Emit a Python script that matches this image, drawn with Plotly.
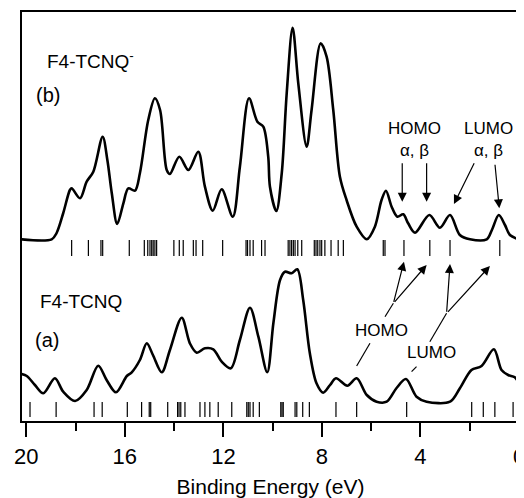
import plotly.graph_objects as go

# ---- data (binding energy in eV, intensity in arbitrary units) ----
anion_energy = [20.2, 18.97, 18.77, 18.50, 18.23, 18.16, 17.82, 17.55, 17.28, 16.90, 16.71, 16.53,
                16.31, 16.06, 15.86, 15.59, 15.39, 15.05, 14.78, 14.57, 14.30, 14.17, 13.79, 13.42,
                13.02, 12.75, 12.43, 12.07, 11.62, 11.33, 10.96, 10.62, 10.38, 10.18, 10.11, 9.85,
                9.63, 9.43, 9.19, 8.96, 8.62, 8.42, 8.05, 7.81, 7.54, 7.27, 7.00, 6.59, 6.18, 5.85,
                5.58, 5.40, 5.17, 4.94, 4.70, 4.50, 4.22, 3.64, 3.21, 2.80, 2.40, 1.99, 1.31, 1.10,
                0.82, 0.57, 0.37, 0.0]
anion_intensity = [181.7, 181.7, 188, 208, 231, 232.7, 222.7, 239.3, 249.3, 284.3, 261, 227.7,
                   197, 217.7, 232.7, 230.3, 247.7, 301, 322.7, 311, 251, 247, 264.3, 251,
                   269.3, 234.3, 210.3, 231.7, 204.3, 254.3, 322.7, 299.3, 294.3, 264.3, 234.3, 210,
                   248, 327.7, 393.3, 337.7, 274.3, 311, 377.7, 364.3, 311, 244.3, 221, 194.3, 181.7, 194.3,
                   221, 230.3, 214.3, 204.3, 206.7, 197.7, 188.3, 206, 193.3, 206, 186, 181.7, 181.7, 191,
                   206, 196, 186, 181.7]

neutral_energy = [20.2, 19.98, 19.65, 19.31, 18.84, 18.50, 18.02, 17.55, 17.08, 16.74, 16.36, 15.92,
                  15.72, 15.39, 15.11, 14.86, 14.50, 14.17, 13.69, 13.36, 13.08, 12.75, 12.41, 12.07,
                  11.70, 11.33, 10.92, 10.58, 10.22, 9.97, 9.70, 9.50, 9.23, 9.00, 8.76, 8.49, 8.22,
                  7.95, 7.67, 7.43, 6.97, 6.59, 6.18, 5.78, 5.37, 4.97, 4.59, 4.16, 3.75, 2.80, 2.40,
                  1.93, 1.52, 1.02, 0.71, 0.44, 0.17, -0.06]
neutral_intensity = [47, 45, 36, 27.7, 42.7, 29.3, 20, 31, 55.3, 41, 28.7, 45,
                     48.7, 61, 77.7, 66, 48.7, 71, 103.3, 77.7, 68.3, 72.7, 71.7, 59.3,
                     52.7, 81, 113.3, 84.3, 48.7, 98, 141, 149.3, 147.7, 151.7, 121, 67.7, 37.7,
                     28.3, 36, 42.7, 35.3, 42.7, 26, 19.3, 19.3, 33, 42, 24.3, 19.3, 19.3, 32.7,
                     51, 55, 71.7, 51, 46, 43.7, 34.3]

# calculated orbital energies (stick spectra)
anion_levels = [18.16, 17.48, 16.97, 16.90, 15.82, 15.21, 15.07, 14.98, 14.91, 14.85, 14.78, 14.71,
                14.01, 13.79, 13.63, 13.22, 13.11, 12.84, 12.03, 11.08, 11.02, 10.92, 10.79, 10.45,
                10.31, 9.37, 9.30, 9.23, 9.16, 9.09, 8.98, 8.82, 8.31, 8.24, 8.17, 8.08, 8.01, 7.88,
                7.63, 7.34, 7.13, 5.51, 5.44, 4.67, 3.62, 2.80, 0.78]
neutral_levels = [19.85, 18.79, 17.25, 16.92, 15.90, 15.32, 15.01, 14.95, 14.26, 13.86, 13.80, 13.73,
                  13.56, 12.95, 12.75, 12.55, 12.21, 11.66, 11.05, 10.99, 10.92, 10.79, 10.54, 9.67,
                  9.62, 9.57, 9.09, 9.02, 8.78, 8.51, 7.43, 6.59, 4.56, 1.92, 1.45, 0.98, 0.24]
anion_stick_range = (165, 181)
neutral_stick_range = (4, 19)

tick_values = [20, 16, 12, 8, 4, 0]
tick_labels = ["20", "16", "12", "8", "4", "0"]

FONT = "Liberation Sans, Arial, sans-serif"


def sticks(levels, lo, hi):
    xs, ys = [], []
    for e in levels:
        xs += [e, e, None]
        ys += [lo, hi, None]
    return xs, ys


fig = go.Figure()
fig.add_trace(go.Scatter(x=anion_energy, y=anion_intensity, mode="lines",
                         line=dict(color="black", width=2.6, shape="spline", smoothing=0.9),
                         hoverinfo="skip", showlegend=False))
fig.add_trace(go.Scatter(x=neutral_energy, y=neutral_intensity, mode="lines",
                         line=dict(color="black", width=2.6, shape="spline", smoothing=0.9),
                         hoverinfo="skip", showlegend=False))
for lv, rng in ((anion_levels, anion_stick_range), (neutral_levels, neutral_stick_range)):
    sx, sy = sticks(lv, *rng)
    fig.add_trace(go.Scatter(x=sx, y=sy, mode="lines", line=dict(color="black", width=1.2),
                             hoverinfo="skip", showlegend=False))

annotations = []


def label(text, x, y, size, xanchor="left"):
    annotations.append(dict(x=x, y=y, xref="x", yref="y", text=text, showarrow=False,
                            xanchor=xanchor, yanchor="middle",
                            font=dict(family=FONT, size=size, color="black")))


def arrow(x0, y0, x1, y1):
    annotations.append(dict(x=x1, y=y1, ax=x0, ay=y0, xref="x", yref="y", axref="x", ayref="y",
                            text="", showarrow=True, arrowhead=2, arrowsize=1.5, arrowwidth=1.2,
                            arrowcolor="black", standoff=0))


label("F4-TCNQ<sup>-</sup>", 19.24, 361, 19)
label("(b)", 19.69, 326, 20)
label("F4-TCNQ", 19.51, 120, 19)
label("(a)", 19.72, 81, 20)
label("HOMO<br>α, β", 4.23, 281.5, 17, "center")
label("LUMO<br>α, β", 1.24, 281.5, 17, "center")
label("HOMO", 5.60, 91, 17, "center")
label("LUMO", 3.54, 68.3, 17, "center")

# arrows to anion peaks
arrow(4.74, 259.3, 4.74, 219.3)
arrow(3.75, 259.3, 3.75, 219.3)
arrow(1.79, 259.3, 2.64, 217)
arrow(0.98, 257.7, 0.80, 212.7)
# arrows from neutral labels to anion levels
arrow(5.10, 117.7, 4.67, 159.3)
arrow(5.10, 117.7, 3.75, 156)
arrow(2.94, 107.7, 2.80, 157)
arrow(2.94, 107.7, 1.18, 155)

shapes = [
    dict(type="line", xref="x", yref="y", x0=6.59, y0=55, x1=6.05, y1=77.7,
         line=dict(color="black", width=1.2)),
    dict(type="line", xref="x", yref="y", x0=5.44, y0=104.3, x1=5.10, y1=117.7,
         line=dict(color="black", width=1.2)),
    dict(type="line", xref="x", yref="y", x0=4.36, y0=49.3, x1=4.16, y1=54.3,
         line=dict(color="black", width=1.2)),
    dict(type="line", xref="x", yref="y", x0=3.62, y0=79.3, x1=2.94, y1=107.7,
         line=dict(color="black", width=1.2)),
]

# the page body adds an 8px margin, so the figure is sized 8px smaller and offset accordingly
fig.update_layout(
    width=516, height=490,
    margin=dict(l=14, r=5, t=4, b=77, autoexpand=False),
    paper_bgcolor="white", plot_bgcolor="white",
    font=dict(family=FONT, color="black"),
    annotations=annotations, shapes=shapes,
    xaxis=dict(range=[20.175, 0], tickvals=tick_values, ticktext=tick_labels,
               ticks="outside", ticklen=14, tickwidth=2, tickcolor="black",
               minor=dict(dtick=2, tick0=0, ticks="outside", ticklen=8, tickwidth=2,
                          tickcolor="black", showgrid=False),
               showline=True, linewidth=2, linecolor="black", mirror=True,
               showgrid=False, zeroline=False, ticklabelstandoff=1, automargin=False,
               ticklabeloverflow="allow",
               tickfont=dict(family=FONT, size=22, color="black"),
               title=dict(text="Binding Energy (eV)", standoff=11,
                          font=dict(family=FONT, size=21, color="black"))),
    yaxis=dict(range=[0, 409], showticklabels=False, ticks="", showgrid=False, zeroline=False,
               showline=True, linewidth=1.5, linecolor="black", mirror=True, automargin=False),
)

fig.write_html("out.html")
